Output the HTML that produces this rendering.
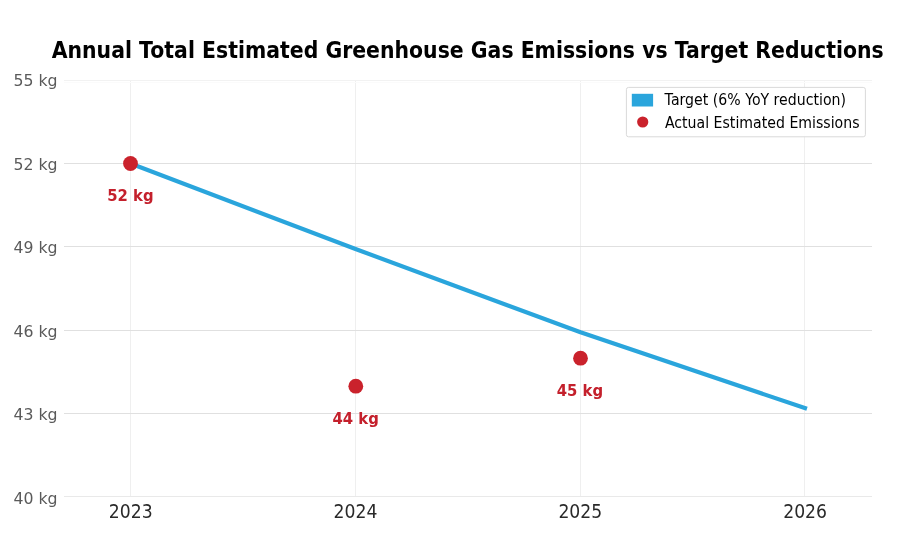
<!DOCTYPE html>
<html lang="en"><head><meta charset="utf-8"><title>Annual Total Estimated Greenhouse Gas Emissions vs Target Reductions</title>
<style>
html,body{margin:0;padding:0;background:#fff;}
body{width:914px;height:546px;overflow:hidden;}
svg{display:block;font-family:'DejaVu Sans','Liberation Sans',sans-serif;will-change:transform;}
</style></head><body>
<svg width="914" height="546" viewBox="0 0 914 546">
<rect width="914" height="546" fill="#ffffff"/>
<g shape-rendering="crispEdges">
<rect x="130" y="80" width="1" height="417" fill="#efefef"/>
<rect x="355" y="80" width="1" height="417" fill="#efefef"/>
<rect x="580" y="80" width="1" height="417" fill="#efefef"/>
<rect x="804" y="80" width="1" height="417" fill="#efefef"/>
<rect x="64" y="80" width="808" height="1" fill="#f2f2f2"/>
<rect x="64" y="82" width="808" height="1" fill="#fbfbfb"/>
<rect x="64" y="163" width="808" height="1" fill="#e0e0e0"/>
<rect x="64" y="246" width="808" height="1" fill="#e0e0e0"/>
<rect x="64" y="330" width="808" height="1" fill="#e0e0e0"/>
<rect x="64" y="413" width="808" height="1" fill="#e0e0e0"/>
<rect x="64" y="496" width="808" height="1" fill="#e9e9e9"/>
</g>
<polyline points="130.5,163.5 355.5,249.0 580.5,332.3 805.0,408.1" fill="none" stroke="#2aa5dc" stroke-width="4.17" stroke-linecap="square" stroke-linejoin="round"/>
<circle cx="130.5" cy="163.5" r="7.4" fill="#ca222c"/>
<circle cx="355.8" cy="386.2" r="7.4" fill="#ca222c"/>
<circle cx="580.5" cy="358.2" r="7.4" fill="#ca222c"/>
<text transform="translate(130.40 201.10) scale(0.972 1)" font-size="15.3" fill="#c4202c" text-anchor="middle" font-weight="bold">52 kg</text>
<text transform="translate(355.70 423.80) scale(0.972 1)" font-size="15.3" fill="#c4202c" text-anchor="middle" font-weight="bold">44 kg</text>
<text transform="translate(579.90 395.80) scale(0.972 1)" font-size="15.3" fill="#c4202c" text-anchor="middle" font-weight="bold">45 kg</text>
<text transform="translate(57.50 86.10) scale(1.022 1)" font-size="15.4" fill="#5a5a5a" text-anchor="end">55 kg</text>
<text transform="translate(57.50 169.68) scale(1.022 1)" font-size="15.4" fill="#5a5a5a" text-anchor="end">52 kg</text>
<text transform="translate(57.50 253.26) scale(1.022 1)" font-size="15.4" fill="#5a5a5a" text-anchor="end">49 kg</text>
<text transform="translate(57.50 336.84) scale(1.022 1)" font-size="15.4" fill="#5a5a5a" text-anchor="end">46 kg</text>
<text transform="translate(57.50 420.42) scale(1.022 1)" font-size="15.4" fill="#5a5a5a" text-anchor="end">43 kg</text>
<text transform="translate(57.50 504.00) scale(1.022 1)" font-size="15.4" fill="#5a5a5a" text-anchor="end">40 kg</text>
<text transform="translate(130.70 518.00) scale(0.87 1)" font-size="19.8" fill="#2a2a2a" text-anchor="middle">2023</text>
<text transform="translate(355.50 518.00) scale(0.87 1)" font-size="19.8" fill="#2a2a2a" text-anchor="middle">2024</text>
<text transform="translate(580.30 518.00) scale(0.87 1)" font-size="19.8" fill="#2a2a2a" text-anchor="middle">2025</text>
<text transform="translate(805.10 518.00) scale(0.87 1)" font-size="19.8" fill="#2a2a2a" text-anchor="middle">2026</text>
<text transform="translate(467.70 57.70) scale(0.9128 1)" font-size="22.4" fill="#000000" text-anchor="middle" font-weight="bold">Annual Total Estimated Greenhouse Gas Emissions vs Target Reductions</text>
<rect x="626.4" y="87.4" width="239.0" height="49.4" rx="2.2" ry="2.2" fill="#ffffff" fill-opacity="0.9" stroke="#d9d9d9" stroke-width="1"/>
<rect x="631.8" y="93.8" width="21.3" height="12.7" fill="#2aa5dc"/>
<circle cx="642.7" cy="122" r="5.6" fill="#ca222c"/>
<text transform="translate(664.60 105.40) scale(0.917 1)" font-size="15.4" fill="#000000" text-anchor="start">Target (6% YoY reduction)</text>
<text transform="translate(664.90 128.10) scale(0.917 1)" font-size="15.4" fill="#000000" text-anchor="start">Actual Estimated Emissions</text>
</svg>
</body></html>
